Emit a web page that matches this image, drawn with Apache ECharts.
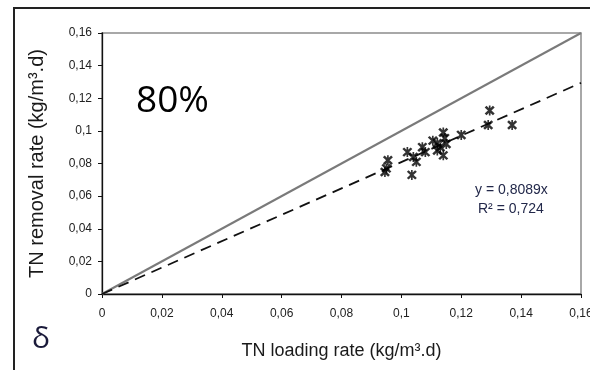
<!DOCTYPE html>
<html>
<head>
<meta charset="utf-8">
<style>
  html, body { margin: 0; padding: 0; background: #fff; }
  #chart { width: 590px; height: 370px; }
</style>
<script src="https://cdn.jsdelivr.net/npm/echarts@6/dist/echarts.min.js"></script>
</head>
<body>
<div id="chart"></div>
<script>
// measured points: TN loading rate vs TN removal rate (kg/m3.d)
const loadingRate = [0.0955, 0.0950, 0.0945, 0.1020, 0.1040, 0.1050, 0.1035, 0.1070, 0.1080,
  0.1105, 0.1120, 0.1130, 0.1120, 0.1140, 0.1145, 0.1150, 0.1140, 0.1200, 0.1295, 0.1290, 0.1370];
const removalRate = [0.0820, 0.0770, 0.0748, 0.0870, 0.0840, 0.0810, 0.0730, 0.0900, 0.0870,
  0.0940, 0.0925, 0.0900, 0.0880, 0.0990, 0.0955, 0.0920, 0.0850, 0.0975, 0.1125, 0.1036, 0.1036];
const slope = 0.8089;   // regression y = 0,8089x
const r2 = 0.724;
const axisMax = 0.16;
const tickStep = 0.02;

const points = loadingRate.map((x, i) => [x, removalRate[i]]);
const fitLine = [[0, 0], [axisMax, slope * axisMax]];
const oneToOne = [[0, 0], [axisMax, axisMax]];

const comma = v => String(+v.toFixed(2)).replace('.', ',');

// asterisk marker like the excel "*" symbol
const star = 'path://M4.2 0L5.8 0L5.8 10L4.2 10Z M0.2 1.9L1.9 0.3L9.8 8.1L8.1 9.7Z M8.1 0.3L9.8 1.9L1.9 9.7L0.2 8.1Z';

const chart = echarts.init(document.getElementById('chart'));
const labelFont = { fontFamily: 'Liberation Sans, Arial', fontSize: 12, color: '#222' };

chart.setOption({
  backgroundColor: '#fff',
  animation: false,
  grid: {
    left: 102, right: 9, top: 33, bottom: 76,
    outerBoundsMode: 'none',
    show: true, borderColor: '#8c8c8c', borderWidth: 1.5
  },
  xAxis: {
    type: 'value', min: 0, max: axisMax, interval: tickStep,
    name: 'TN loading rate (kg/m³.d)', nameLocation: 'middle', nameGap: 48,
    nameTextStyle: { fontFamily: 'Liberation Sans, Arial', fontSize: 18, color: '#1a1a1a' },
    axisLine: { show: true, onZero: false, lineStyle: { color: '#111', width: 1.3 } },
    axisTick: { show: true, length: 4, lineStyle: { color: '#111' } },
    splitLine: { show: false },
    axisLabel: Object.assign({ margin: 14, formatter: comma }, labelFont)
  },
  yAxis: {
    type: 'value', min: 0, max: axisMax, interval: tickStep,
    name: 'TN removal rate (kg/m³.d)', nameLocation: 'middle', nameGap: 55,
    nameTextStyle: { fontFamily: 'Liberation Sans, Arial', fontSize: 20, color: '#1a1a1a' },
    axisLine: { show: true, onZero: false, lineStyle: { color: '#111', width: 1.3 } },
    axisTick: { show: true, length: 4, lineStyle: { color: '#111' } },
    splitLine: { show: false },
    axisLabel: Object.assign({ margin: 10, formatter: comma }, labelFont)
  },
  series: [
    {
      name: '1:1', type: 'line', data: oneToOne, symbol: 'none',
      lineStyle: { color: '#7a7a7a', width: 2 }, z: 2
    },
    {
      name: 'fit', type: 'line', data: fitLine, symbol: 'none',
      lineStyle: { color: '#111', width: 1.8, type: [11, 7] }, z: 3
    },
    {
      name: 'data', type: 'scatter', data: points, symbol: star, symbolSize: 10,
      itemStyle: { color: '#000' }, z: 4
    }
  ],
  graphic: [
    { type: 'rect', shape: { x: 14, y: 8, width: 640, height: 420 },
      style: { fill: 'none', stroke: '#222', lineWidth: 2 } },
    { type: 'text', left: 136, top: 83,
      style: { text: '80%', font: '37px "Open Sans", "Liberation Sans", sans-serif', fill: '#000' } },
    { type: 'text', left: 32, top: 324,
      style: { text: 'δ', font: '30px "Open Sans", "Liberation Sans", sans-serif', fill: '#1a1a3a' } },
    { type: 'text', left: 475, top: 183,
      style: { text: 'y = ' + String(slope).replace('.', ',') + 'x',
        font: '14px "Liberation Sans", Arial', fill: '#22284a' } },
    { type: 'text', left: 478, top: 202,
      style: { text: 'R² = ' + String(r2).replace('.', ','), font: '14px "Liberation Sans", Arial', fill: '#22284a' } }
  ]
});
</script>
</body>
</html>
